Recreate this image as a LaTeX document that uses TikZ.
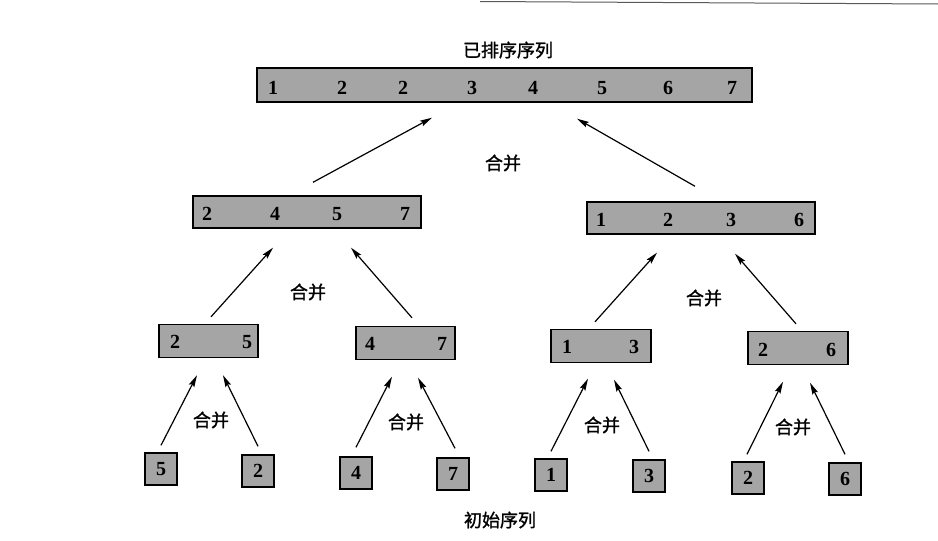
\documentclass[tikz,border=0pt]{standalone}
\usepackage{fontspec}
\setmainfont{Liberation Serif}
\newfontface\cjk[FakeBold=1.3]{Noto Sans CJK SC}
\usetikzlibrary{arrows.meta}
\definecolor{boxgray}{RGB}{165,165,165}
\definecolor{rulegray}{RGB}{90,90,90}
\tikzset{
  bar/.style={draw=black, line width=1.4pt, fill=boxgray, inner sep=0pt, minimum height=33pt},
  leaf/.style={draw=black, line width=1.4pt, fill=boxgray, inner sep=0pt, minimum width=32pt, minimum height=32pt, font=\fontsize{20}{20}\selectfont\bfseries},
  num/.style={inner sep=0pt, font=\fontsize{20}{20}\selectfont\bfseries},
  zh/.style={inner sep=0pt, font=\cjk\fontsize{18}{18}\selectfont},
  arr/.style={line width=1.2pt, -{Stealth[length=12pt,width=6pt,inset=2pt]}}
}
\begin{document}
\begin{tikzpicture}[x=1pt,y=-1pt]
\useasboundingbox (0,0) rectangle (938,541);
\fill[white] (0,0) rectangle (938,541);
\draw[rulegray, line width=1pt] (480,1.5) -- (938,4);

% titles
\node[zh] (t1) at (508,50) {已排序序列};
\node[zh] (t2) at (500,520) {初始序列};

% top bar
\node[bar, minimum width=495pt, minimum height=34pt] (top) at (504.5,85) {};
\foreach \n/\x in {1/273,2/342,2/403,3/472,4/533,5/602,6/668,7/732}
  \node[num] at (\x,88) {\n};

% level 2
\node[bar, minimum width=228pt, minimum height=32pt] (L2a) at (307,212) {};
\foreach \n/\x in {2/207,4/275,5/337,7/405}
  \node[num] at (\x,214) {\n};
\node[bar, minimum width=228pt, minimum height=32pt] (L2b) at (701,218) {};
\foreach \n/\x in {1/601,2/668,3/731,6/799}
  \node[num] at (\x,220) {\n};

% level 3
\node[bar, minimum width=99pt] (L3a) at (208.5,341) {};
\node[num] at (175,342) {2}; \node[num] at (247,342) {5};
\node[bar, minimum width=99pt] (L3b) at (405.5,343) {};
\node[num] at (370,344) {4}; \node[num] at (442,344) {7};
\node[bar, minimum width=100pt] (L3c) at (601,346) {};
\node[num] at (567,347) {1}; \node[num] at (634,347) {3};
\node[bar, minimum width=100pt] (L3d) at (798,348) {};
\node[num] at (763,350) {2}; \node[num] at (831,350) {6};

% leaves
\node[leaf] (a5) at (161,469) {5};
\node[leaf] (a2) at (258,471) {2};
\node[leaf] (a4) at (356,473) {4};
\node[leaf] (a7) at (453,474) {7};
\node[leaf] (a1) at (551,475) {1};
\node[leaf] (a3) at (649,476) {3};
\node[leaf] (b2) at (748,478) {2};
\node[leaf] (a6) at (845,479) {6};

% merge labels
\node[zh] at (503,163) {合并};
\node[zh] at (308,292) {合并};
\node[zh] at (704,298) {合并};
\node[zh] at (211,420) {合并};
\node[zh] at (406,422) {合并};
\node[zh] at (602,425) {合并};
\node[zh] at (793,427) {合并};

% arrows level 2 -> top
\draw[arr] ([shift={(6,-13)}]L2a.north) -- ([shift={(-72.5,15)}]top.south);
\draw[arr] ([shift={(-6,-15)}]L2b.north) -- ([shift={(72.5,16)}]top.south);
% level 3 -> level 2
\draw[arr] ([shift={(2.5,-7)}]L3a.north) -- ([shift={(-34,19)}]L2a.south);
\draw[arr] ([shift={(6.5,-8)}]L3b.north) -- ([shift={(44,19)}]L2a.south);
\draw[arr] ([shift={(-6,-7)}]L3c.north) -- ([shift={(-44,18)}]L2b.south);
\draw[arr] ([shift={(-2,-7)}]L3d.north) -- ([shift={(34,19)}]L2b.south);
% leaves -> level 3
\draw[arr] ([shift={(0,-7)}]a5.north) -- ([shift={(-11.5,17)}]L3a.south);
\draw[arr] ([shift={(0,-8)}]a2.north) -- ([shift={(14.5,17)}]L3a.south);
\draw[arr] ([shift={(0,-9)}]a4.north) -- ([shift={(-13.5,16.5)}]L3b.south);
\draw[arr] ([shift={(2,-9)}]a7.north) -- ([shift={(12.5,17.5)}]L3b.south);
\draw[arr] ([shift={(0,-7)}]a1.north) -- ([shift={(-13,15.5)}]L3c.south);
\draw[arr] ([shift={(0,-8)}]a3.north) -- ([shift={(13,16.5)}]L3c.south);
\draw[arr] ([shift={(-1,-7)}]b2.north) -- ([shift={(-15,16.5)}]L3d.south);
\draw[arr] ([shift={(0,-8)}]a6.north) -- ([shift={(12,17.5)}]L3d.south);
\end{tikzpicture}
\end{document}
